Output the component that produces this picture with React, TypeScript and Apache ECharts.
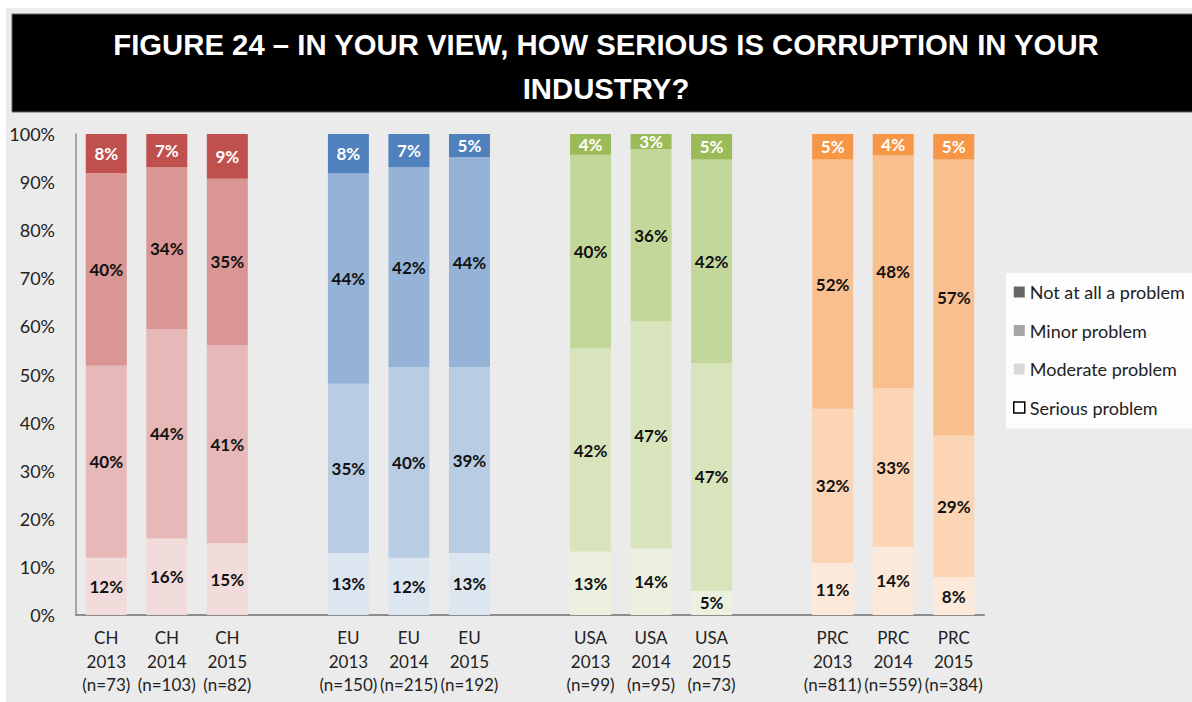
import React, { useEffect, useRef } from "react";
import * as echarts from "echarts";

const groups = ["CH", "EU", "USA", "PRC"];
const years = ["2013", "2014", "2015"];
const sampleSizes = [
  [73, 103, 82],
  [150, 215, 192],
  [99, 95, 73],
  [811, 559, 384],
];
// values per group, per year (bottom to top of each bar)
const seriousProblem = [
  [11.9, 15.9, 14.9],
  [12.9, 11.9, 12.9],
  [13.2, 13.8, 5.0],
  [10.8, 14.2, 7.9],
];
const moderateProblem = [
  [39.9, 43.5, 41.2],
  [35.2, 39.6, 38.6],
  [42.2, 47.2, 47.4],
  [32.1, 33.0, 29.4],
];
const minorProblem = [
  [40.1, 33.7, 34.6],
  [43.7, 41.6, 43.7],
  [40.3, 35.9, 42.3],
  [51.8, 48.4, 57.4],
];
const notAtAllProblem = [
  [8.1, 6.9, 9.3],
  [8.2, 6.9, 4.8],
  [4.3, 3.1, 5.3],
  [5.3, 4.4, 5.3],
];
const seriesNames = ["Serious problem", "Moderate problem", "Minor problem", "Not at all a problem"];
const yTicks = [0, 10, 20, 30, 40, 50, 60, 70, 80, 90, 100];
const titleText = "FIGURE 24 – IN YOUR VIEW, HOW SERIOUS IS CORRUPTION IN YOUR\nINDUSTRY?";

// colors per group: [serious, moderate, minor, not at all]
const groupColors = [
  ["#f2dcdb", "#e6b8b7", "#d99694", "#c0504d"],
  ["#dce6f1", "#b8cce4", "#95b3d7", "#4f81bd"],
  ["#ebf1de", "#d8e4bc", "#c4d79b", "#9bbb59"],
  ["#fde9d9", "#fcd5b4", "#fabf8f", "#f79646"],
];
const legendColors = ["#ffffff", "#d9d9d9", "#a6a6a6", "#666666"];

export default function App() {
  const ref = useRef<HTMLDivElement>(null);

  useEffect(() => {
    if (!ref.current) return;
    const chart = echarts.init(ref.current, null, { renderer: "svg" });

    const categories: string[] = [];
    const slots: { g: number; y: number }[] = [];
    groups.forEach((g, gi) => {
      years.forEach((yr, yi) => {
        categories.push(`${g}\n${yr}\n(n=${sampleSizes[gi][yi]})`);
        slots.push({ g: gi, y: yi });
      });
      if (gi < groups.length - 1) {
        categories.push(" ".repeat(gi + 1));
        slots.push({ g: -1, y: -1 });
      }
    });

    const layers = [seriousProblem, moderateProblem, minorProblem, notAtAllProblem];
    const font = "Lato";

    const series = layers.map((layer, li) => ({
      name: seriesNames[li],
      type: "bar",
      stack: "total",
      barWidth: 41,
      clip: true,
      label: {
        show: true,
        position: "inside",
        formatter: (p: any) => `${Math.round(p.value)}%`,
        fontFamily: font,
        fontWeight: "bold",
        fontSize: 17,
        color: li === 3 ? "#ffffff" : "#111111",
      },
      data: slots.map((s) =>
        s.g < 0
          ? "-"
          : { value: layer[s.g][s.y], itemStyle: { color: groupColors[s.g][li] } }
      ),
    }));

    chart.setOption({
      animation: false,
      backgroundColor: "#ffffff",
      textStyle: { fontFamily: font },
      graphic: [
        {
          type: "rect",
          z: -10,
          shape: { x: 6, y: 8, width: 1200, height: 700 },
          style: { fill: "#ebebeb" },
          silent: true,
        },
        {
          type: "rect",
          z: -5,
          shape: { x: 12, y: 14, width: 1190, height: 98 },
          style: { fill: "#000000", stroke: "#666666", lineWidth: 1 },
          silent: true,
        },
        {
          type: "text",
          z: 10,
          x: 606,
          y: 22,
          style: {
            text: titleText,
            align: "center",
            fill: "#ffffff",
            font: 'bold 29.3px "Liberation Sans", Arial, sans-serif',
            lineHeight: 44,
          },
          silent: true,
        },
      ],
      legend: {
        orient: "vertical",
        left: 1006,
        top: 273,
        backgroundColor: "#fdfdfd",
        padding: [9, 60, 11, 7],
        itemGap: 18.5,
        itemWidth: 11,
        itemHeight: 11,
        icon: "rect",
        selectedMode: false,
        textStyle: { fontFamily: font, fontSize: 18, color: "#222222", lineHeight: 20 },
        data: [
          { name: seriesNames[3], itemStyle: { color: legendColors[3] } },
          { name: seriesNames[2], itemStyle: { color: legendColors[2] } },
          { name: seriesNames[1], itemStyle: { color: legendColors[1] } },
          {
            name: seriesNames[0],
            itemStyle: { color: legendColors[0], borderColor: "#000000", borderWidth: 1.5 },
          },
        ],
      },
      grid: { left: 76, right: 208, top: 134, bottom: 87, containLabel: false },
      xAxis: {
        type: "category",
        data: categories,
        axisLine: { lineStyle: { color: "#8c8c8c", width: 2 } },
        axisTick: { show: false },
        axisLabel: {
          interval: 0,
          fontFamily: font,
          fontSize: 17,
          lineHeight: 23.5,
          color: "#222222",
          margin: 11,
        },
      },
      yAxis: {
        type: "value",
        min: yTicks[0],
        max: yTicks[yTicks.length - 1],
        interval: 10,
        splitLine: { show: false },
        axisLine: { show: true, lineStyle: { color: "#8c8c8c", width: 1.5 } },
        axisTick: { show: false },
        axisLabel: {
          formatter: "{value}%",
          fontFamily: font,
          fontSize: 18,
          color: "#222222",
          margin: 21,
        },
      },
      series,
    });

    return () => chart.dispose();
  }, []);

  return (
    <div
      ref={ref}
      style={{ position: "fixed", left: 0, top: 0, width: 1192, height: 702 }}
    />
  );
}
